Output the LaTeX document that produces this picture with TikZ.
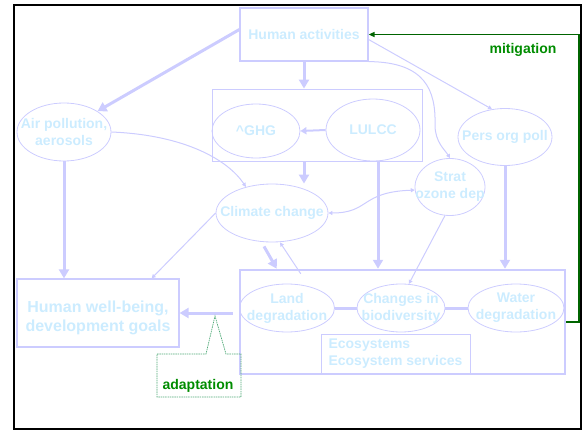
\documentclass[tikz,border=0pt]{standalone}
\usepackage{fontspec}
\setmainfont{Liberation Sans}
\usepackage{tikz}
\usetikzlibrary{shapes.geometric,arrows.meta}
\definecolor{lav}{RGB}{204,204,255}
\definecolor{lblue}{RGB}{204,236,255}
\definecolor{mgreen}{RGB}{0,140,0}
\definecolor{dgreen}{RGB}{0,100,0}
\definecolor{cgreen}{RGB}{80,170,120}

\begin{document}
\begin{tikzpicture}[x=1pt,y=-1pt,
  every node/.style={font=\fontsize{14}{17}\selectfont\bfseries,text=lblue,align=center},
  blob/.style={ellipse,draw=lav,line width=0.8pt,inner sep=0pt},
  boxed/.style={rectangle,draw=lav,line width=1.2pt,inner sep=0pt},
  thickarr/.style={draw=lav,line width=3pt,-{Triangle[length=9pt,width=10pt]}},
  thinarr/.style={draw=lav,line width=1pt,-{Triangle[length=4pt,width=4pt]}},
  thinboth/.style={draw=lav,line width=1pt,{Triangle[length=4pt,width=4pt]}-{Triangle[length=4pt,width=4pt]}},
  mitarr/.style={draw=dgreen,line width=1.8pt,-{Triangle[length=6pt,width=5pt]}},
  callout/.style={draw=cgreen,line width=0.7pt,dash pattern=on 1.5pt off 0.8pt},
  greentxt/.style={text=mgreen}]
\useasboundingbox (0,0) rectangle (582,431);
\draw[line width=2pt] (14,5) rectangle (580.5,429);

\node[boxed,minimum width=128pt,minimum height=53pt] (ha) at (304,34.5) {Human activities};
\node[boxed,line width=0.8pt,minimum width=210pt,minimum height=72pt] (drivers) at (317,125) {};
\node[blob,minimum width=88pt,minimum height=54pt,label={center:\textasciicircum GHG}] (ghg) at (256,131) {};
\node[blob,minimum width=94pt,minimum height=62pt,label={center:LULCC}] (lulcc) at (373,130) {};
\node[blob,minimum width=94pt,minimum height=58pt,label={center:{Air pollution,\\aerosols}}] (airp) at (64,132) {};
\node[blob,minimum width=94pt,minimum height=57pt,label={center:Pers org poll}] (pers) at (505,137) {};
\node[blob,minimum width=70pt,minimum height=57pt,label={center:{Strat\\ozone dep}}] (ozone) at (450,187) {};
\node[blob,minimum width=112pt,minimum height=58pt,label={center:Climate change}] (climate) at (272,213) {};
\node[boxed,minimum width=162pt,minimum height=68pt,
  label={[yshift=-5pt,font=\fontsize{16}{19}\selectfont\bfseries]center:{Human well-being,\\development goals}}] (hwb) at (98,313) {};
\node[boxed,line width=2.5pt,minimum width=325pt,minimum height=104pt] (eco) at (402.5,322) {};
\node[blob,minimum width=95pt,minimum height=48pt,label={center:{Land\\degradation}}] (land) at (287,308) {};
\node[blob,minimum width=88pt,minimum height=48pt,label={center:{Changes in\\biodiversity}}] (biodiv) at (401,308) {};
\node[blob,minimum width=96pt,minimum height=48pt,label={center:{Water\\degradation}}] (water) at (516,308) {};
\node[boxed,line width=1pt,minimum width=149pt,minimum height=40pt,align=left] (serv) at (395.5,354) {Ecosystems\\Ecosystem services};
\node[greentxt] (mitig) at (523,50) {mitigation};
\node[greentxt] (adapt) at (198,386) {adaptation};

\draw[thickarr] ([yshift=5pt]ha.west) -- (airp.north east);
\draw[thickarr] (ha.south) -- (ha.south |- drivers.north);
\draw[thinarr] ([yshift=-5pt]ha.east) -- (pers.115);
\draw[thinarr] (ha.south east) .. controls (425,62) and (436,90) .. (435,125)
  .. controls (435,142) and (445,150) .. (ozone.north);
\draw[draw=lav,line width=2pt,-{Triangle[length=6pt,width=7pt]}] (lulcc.west) -- (ghg.east);
\draw[thinarr] (airp.east) .. controls (185,135) and (228,160) .. (climate.135);
\draw[thickarr] (ha.south |- drivers.south) -- (ha.south |- climate.north);
\draw[thickarr] (airp.south) -- (airp.south |- hwb.north);
\draw[thinboth] (climate.east) .. controls (370,213) and (360,192) .. (ozone.185);
\draw[thinarr] (climate.west) -- ([xshift=-28pt]hwb.north east);
\draw[thickarr] ([xshift=5pt]lulcc.south) -- ([xshift=5pt]lulcc.south |- eco.north);
\draw[thickarr] (pers.south) -- (pers.south |- eco.north);
\draw[thinarr] (ozone.260) -- (biodiv.72);
\draw[thickarr] ([xshift=-8pt,yshift=-4pt]climate.south) -- ([xshift=38pt]eco.north west);
\draw[thinarr] ([xshift=62pt,yshift=-5pt]eco.north west) -- ([xshift=8pt]climate.south);
\draw[thickarr] ([xshift=53pt]hwb.east) -- (hwb.east);
\draw[draw=lav,line width=3pt] (land.east) -- (biodiv.west);
\draw[draw=lav,line width=3pt] (biodiv.east) -- (water.west);
\draw[mitarr] (eco.east) -- ++(13,0) |- (ha.east);
\draw[callout] (157,354) -- (206,354) -- (215,316) -- (226,354) -| (241,397) -| cycle;
\end{tikzpicture}
\end{document}
